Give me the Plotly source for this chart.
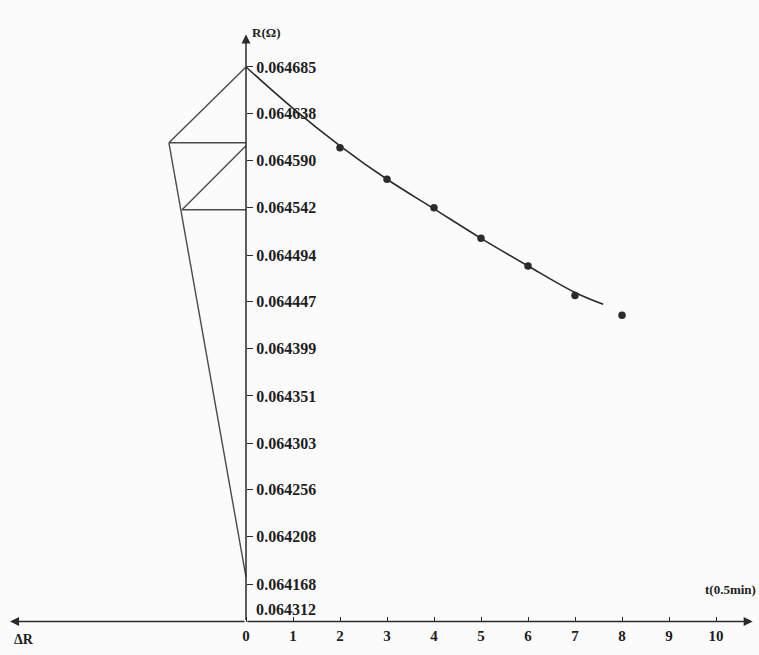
import plotly.graph_objects as go

# measured points R(t), t in units of 0.5 min
t_pts = [2, 3, 4, 5, 6, 7, 8]
r_pts = [0.064603, 0.064571, 0.064542, 0.064511, 0.064483, 0.064453, 0.064433]

# fitted curve
t_fit = [0, 1, 2, 3, 4, 5, 6, 7, 7.6]
r_fit = [0.064685, 0.064643, 0.064605, 0.064571, 0.064541, 0.064511, 0.064483, 0.064456, 0.064444]

# graphical construction on the ΔR side
con_top_x = [0, -1.64, 0]
con_top_y = [0.064685, 0.064608, 0.064608]
con_mid_x = [0, -1.36, 0]
con_mid_y = [0.064605, 0.064540, 0.064540]
con_long_x = [-1.64, 0]
con_long_y = [0.064608, 0.064167]

y_tickvals = [0.064685, 0.064638, 0.064590, 0.064542, 0.064494, 0.064447,
              0.064399, 0.064351, 0.064303, 0.064256, 0.064208, 0.064160]
y_ticktext = ["0.064685", "0.064638", "0.064590", "0.064542", "0.064494", "0.064447",
              "0.064399", "0.064351", "0.064303", "0.064256", "0.064208", "0.064168"]
x_tickvals = [0, 1, 2, 3, 4, 5, 6, 7, 8, 9, 10]
origin_label = "0.064312"

W, H = 759, 655
X_RANGE = [-5.234, 10.915]
Y_RANGE = [0.064088, 0.064753]
X_AXIS_Y = 0.064122
Y_TOP = 0.064718
X_LEFT, X_RIGHT = -5.02, 10.78

INK = "#2b2b2b"
GREY = "#4a4a4a"
BG = "#fbfbfb"
FONT = dict(family="Liberation Serif", size=16, color="#1e1e1e")

fig = go.Figure()
for xs, ys in [(con_top_x, con_top_y), (con_mid_x, con_mid_y), (con_long_x, con_long_y)]:
    fig.add_trace(go.Scatter(x=xs, y=ys, mode="lines", line=dict(color=GREY, width=1.4),
                             hoverinfo="skip", showlegend=False))
fig.add_trace(go.Scatter(x=t_fit, y=r_fit, mode="lines", line=dict(color=INK, width=1.6, shape="spline"),
                         showlegend=False))
fig.add_trace(go.Scatter(x=t_pts, y=r_pts, mode="markers", marker=dict(color=INK, size=7.5),
                         showlegend=False))

arrow = dict(xref="x", yref="y", axref="x", ayref="y", text="", showarrow=True,
             arrowhead=2, arrowsize=1.2, arrowwidth=1.5, arrowcolor=INK)
fig.add_annotation(x=X_LEFT, y=X_AXIS_Y, ax=0, ay=X_AXIS_Y, **arrow)
fig.add_annotation(x=X_RIGHT, y=X_AXIS_Y, ax=0, ay=X_AXIS_Y, **arrow)
fig.add_annotation(x=0, y=Y_TOP, ax=0, ay=X_AXIS_Y, **arrow)

bold = lambda s: "<b>" + s + "</b>"
fig.add_annotation(x=0, y=Y_TOP, text=bold("R(Ω)"), showarrow=False, xanchor="left", yanchor="bottom",
                   xshift=4, yshift=-8, font=dict(FONT, size=13))
fig.add_annotation(x=X_LEFT, y=X_AXIS_Y, text=bold("ΔR"), showarrow=False, xanchor="left", yanchor="top",
                   xshift=2, yshift=-8, font=dict(FONT, size=14))
fig.add_annotation(x=1, y=X_AXIS_Y, xref="paper", text=bold("t(0.5min)"), showarrow=False, xanchor="right",
                   yanchor="bottom", xshift=-1, yshift=23, font=dict(FONT, size=13))
fig.add_annotation(x=0, y=X_AXIS_Y, text=bold(origin_label), showarrow=False, xanchor="left",
                   yanchor="bottom", xshift=8, yshift=2, font=FONT)

fig.update_layout(
    width=W, height=H, autosize=False,
    margin=dict(l=0, r=0, t=0, b=0),
    paper_bgcolor=BG, plot_bgcolor=BG,
    xaxis=dict(range=X_RANGE, anchor="free", position=(X_AXIS_Y - Y_RANGE[0]) / (Y_RANGE[1] - Y_RANGE[0]),
               tickvals=x_tickvals, ticktext=[bold(str(v)) for v in x_tickvals],
               ticks="inside", ticklen=5, tickcolor=INK, tickwidth=1.2,
               showline=False, showgrid=False, zeroline=False, tickfont=dict(FONT, size=15),
               ticklabelstandoff=3),
    yaxis=dict(range=Y_RANGE, anchor="free", side="right", position=(0 - X_RANGE[0]) / (X_RANGE[1] - X_RANGE[0]),
               tickvals=y_tickvals, ticktext=[bold(s) for s in y_ticktext],
               ticks="outside", ticklen=6, tickcolor=INK, tickwidth=1.2,
               showline=False, showgrid=False, zeroline=False, tickfont=FONT, ticklabelstandoff=0),
)

# drop the page's default body margin so the figure sits at the window corner
fig.write_html("out.html", config={"displayModeBar": False},
               post_script="document.body.style.margin='0';document.body.style.background='%s';" % BG)
